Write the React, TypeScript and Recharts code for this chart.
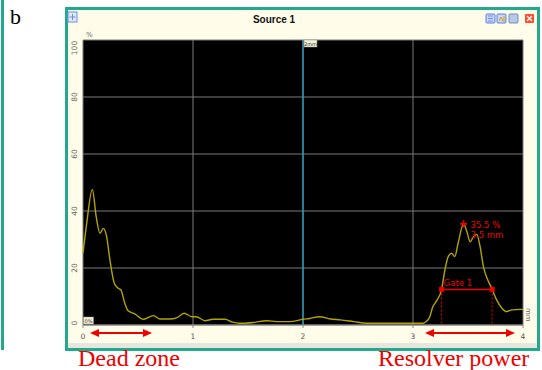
import React from 'react';
import {
  LineChart,
  Line,
  XAxis,
  YAxis,
  CartesianGrid,
  ReferenceLine,
  ReferenceDot
} from 'recharts';

// amplitude profile (mm vs %)
const positionMm = [
  0, 0.03, 0.085, 0.12, 0.155, 0.185, 0.215, 0.245, 0.285, 0.32, 0.345, 0.38, 0.41,
  0.47, 0.55, 0.64, 0.7, 0.79, 0.85, 0.92, 0.99, 1.03, 1.11, 1.18, 1.29, 1.36, 1.42,
  1.55, 1.67, 1.76, 1.88, 2.0, 2.06, 2.15, 2.25, 2.34, 2.46, 2.58, 2.7, 2.94, 3.09,
  3.12, 3.15, 3.18, 3.21, 3.26, 3.29, 3.32, 3.35, 3.38, 3.41, 3.46, 3.49, 3.52, 3.55,
  3.58, 3.61, 3.64, 3.68, 3.72, 3.76, 3.81, 3.85, 3.9, 3.97, 4.0
];
const amplitudePct = [
  25.2, 34.5, 47.6, 38, 32.2, 33.9, 31, 22.8, 14.6, 12.9, 12.3, 7.6, 5,
  3.9, 2, 3.3, 2.1, 2.1, 2.5, 4.1, 2.9, 2.9, 1.5, 2, 2, 1, 0.6,
  0.9, 1.5, 1.2, 1.2, 2, 2.3, 2.9, 2.1, 1.8, 1.2, 0.6, 0.6, 0.6, 0.6,
  1.2, 2.6, 6.4, 8.2, 12.5, 19.3, 24, 25.2, 24, 28.7, 35.5, 32.7, 29.2, 31,
  31.8, 27.5, 20.5, 15.8, 12.5, 8.8, 5.8, 4.7, 5.3, 5.5, 5.5
];

const xTicks = [0, 1, 2, 3, 4];
const yTicks = [0, 20, 40, 60, 80, 100];

const cursorMm = 2;
const gateStart = 3.26;
const gateEnd = 3.72;
const gateLevel = 12.5;
const peakMm = 3.46;
const peakPct = 35.5;
const peakLabel = ['35.5 %', '3.5 mm'];

const data = positionMm.map((x, i) => ({ x, y: amplitudePct[i] }));

const TEAL = '#22a88c';
const CREAM = '#fffde9';
const RED = '#ee0000';
const SMALL_FONT = '"DejaVu Sans", Arial, sans-serif';

const YTick = (props: any) => {
  const { y, payload } = props;
  let dy = 0;
  if (payload.value === 100) dy = 8;
  if (payload.value === 0) dy = -2;
  return (
    <text
      transform={`translate(77,${y + dy}) rotate(-90)`}
      textAnchor="middle"
      fontSize={7.5}
      fontFamily={SMALL_FONT}
      fill="#666"
    >
      {payload.value}
    </text>
  );
};

const XTick = (props: any) => {
  const { x, y, payload } = props;
  return (
    <text x={x} y={y + 9} textAnchor="middle" fontSize={7.5} fontFamily={SMALL_FONT} fill="#555">
      {payload.value}
    </text>
  );
};

const CursorLabel = (props: any) => {
  const { viewBox } = props;
  return (
    <g>
      <rect x={viewBox.x + 1} y={viewBox.y} width={13} height={7} fill="#f4f1d4" stroke="#999" strokeWidth={0.5} />
      <text x={viewBox.x + 7.5} y={viewBox.y + 5.5} textAnchor="middle" fontSize={5} fontFamily={SMALL_FONT} fill="#333">
        2mm
      </text>
    </g>
  );
};

const GateStartDot = (props: any) => {
  const { cx, cy } = props;
  return (
    <g>
      <rect x={cx - 2.5} y={cy - 2.5} width={5} height={5} fill={RED} />
      <text x={cx + 2} y={cy - 3} fontSize={8.5} fontFamily={SMALL_FONT} fill={RED}>
        Gate 1
      </text>
    </g>
  );
};

const GateEndDot = (props: any) => {
  const { cx, cy } = props;
  return <rect x={cx - 2.5} y={cy - 2.5} width={5} height={5} fill={RED} />;
};

const PeakDot = (props: any) => {
  const { cx, cy } = props;
  return (
    <g>
      <path d={`M${cx - 3.5},${cy} L${cx + 3.5},${cy} M${cx},${cy - 3.5} L${cx},${cy + 3.5}`} stroke={RED} strokeWidth={1.6} />
      <circle cx={cx} cy={cy} r={1.3} fill={RED} />
      <text x={cx + 7} y={cy + 4} fontSize={8.5} fontFamily={SMALL_FONT} fill={RED}>
        {peakLabel[0]}
      </text>
      <text x={cx + 7} y={cy + 14} fontSize={8.5} fontFamily={SMALL_FONT} fill={RED}>
        {peakLabel[1]}
      </text>
    </g>
  );
};

const Arrow = ({ x1, x2, y }: { x1: number; x2: number; y: number }) => (
  <g fill={RED} stroke={RED}>
    <line x1={x1 + 6} y1={y} x2={x2 - 6} y2={y} strokeWidth={2.2} />
    <path d={`M${x1},${y} L${x1 + 9},${y - 4} L${x1 + 9},${y + 4} Z`} stroke="none" />
    <path d={`M${x2},${y} L${x2 - 9},${y - 4} L${x2 - 9},${y + 4} Z`} stroke="none" />
  </g>
);

const TitleIcon = ({ x, color, fill }: { x: number; color: string; fill: string }) => (
  <rect x={x} y={14} width={9} height={9} fill={fill} stroke={color} strokeWidth={1} rx={1} />
);

export default function App() {
  return (
    <div style={{ position: 'absolute', left: 0, top: 0, width: 542, height: 370, background: '#fff', overflow: 'hidden' }}>
      {/* window frame */}
      <div
        style={{
          position: 'absolute',
          left: 65,
          top: 7,
          width: 475,
          height: 344,
          boxSizing: 'border-box',
          border: `3px solid ${TEAL}`,
          background: CREAM
        }}
      />
      <div style={{ position: 'absolute', left: 68, top: 343, width: 469, height: 5, background: '#e6e6de' }} />

      <div style={{ position: 'absolute', left: 0, top: 0 }}>
        <LineChart width={542} height={370} data={data} margin={{ top: 40, right: 19, bottom: 0, left: 63 }}>
          <CartesianGrid fill="#000" stroke="#7a7a7a" strokeWidth={1} />
          <XAxis
            dataKey="x"
            type="number"
            domain={[0, 4]}
            ticks={xTicks}
            height={45}
            tick={<XTick />}
            tickSize={3}
            axisLine={{ stroke: '#888' }}
            tickLine={{ stroke: '#888' }}
          />
          <YAxis
            type="number"
            domain={[0, 100]}
            ticks={yTicks}
            width={20}
            tick={<YTick />}
            axisLine={false}
            tickLine={false}
          />
          <ReferenceLine x={cursorMm} stroke="#18a8d0" strokeWidth={1.2} label={<CursorLabel />} />
          <ReferenceLine
            segment={[{ x: gateStart, y: gateLevel }, { x: gateStart, y: 0 }]}
            stroke="#c00000"
            strokeWidth={1.3}
            strokeDasharray="2 2"
          />
          <ReferenceLine
            segment={[{ x: gateEnd, y: gateLevel }, { x: gateEnd, y: 0 }]}
            stroke="#c00000"
            strokeWidth={1.3}
            strokeDasharray="2 2"
          />
          <Line
            type="monotone"
            dataKey="y"
            stroke="#b3a400"
            strokeWidth={1.4}
            dot={false}
            isAnimationActive={false}
          />
          <ReferenceLine
            segment={[{ x: gateStart, y: gateLevel }, { x: gateEnd, y: gateLevel }]}
            stroke={RED}
            strokeWidth={1.5}
          />
          <ReferenceDot x={gateStart} y={gateLevel} shape={<GateStartDot />} />
          <ReferenceDot x={gateEnd} y={gateLevel} shape={<GateEndDot />} />
          <ReferenceDot x={peakMm} y={peakPct} shape={<PeakDot />} />
        </LineChart>
      </div>

      {/* overlay: title bar, unit labels, annotations */}
      <svg width={542} height={370} style={{ position: 'absolute', left: 0, top: 0, pointerEvents: 'none' }}>
        <rect x={1} y={0} width={3} height={350} fill={TEAL} />
        <text x={10} y={24} fontSize={22} fontFamily='"Liberation Serif", "Times New Roman", serif' fill="#000">
          b
        </text>

        <rect x={68} y={12} width={9} height={10} fill="#dfe8ff" stroke="#6c8fe0" strokeWidth={1} />
        <path d="M72.5,14 L72.5,20 M69.5,17 L75.5,17" stroke="#6c8fe0" strokeWidth={1} />
        <text x={274} y={23} textAnchor="middle" fontSize={10} fontWeight="bold" fontFamily='"Liberation Sans", Arial, sans-serif' fill="#111">
          Source 1
        </text>
        <TitleIcon x={486} color="#5d7fe0" fill="#c9d7ff" />
        <TitleIcon x={497} color="#5d7fe0" fill="#c9d7ff" />
        <path d="M499,21 L501,17 L503,21 M504,16 L504,22" stroke="#d4a000" strokeWidth={1} fill="none" />
        <TitleIcon x={509} color="#6d8fc0" fill="#b8c8e8" />
        <rect x={525} y={14} width={9} height={9} fill="#ff4a2a" rx={1} />
        <path d="M527,16 L532,21 M532,16 L527,21" stroke="#fff" strokeWidth={1.4} />
        <path d="M488,16 L493,16 M488,18.5 L493,18.5 M488,21 L493,21" stroke="#5d7fe0" strokeWidth={0.8} />

        <text x={86} y={37} fontSize={7} fontFamily={SMALL_FONT} fill="#666">
          %
        </text>
        <text transform="translate(526,308) rotate(90)" fontSize={7} fontFamily={SMALL_FONT} fill="#666">
          mm
        </text>
        <rect x={83.5} y={317} width={10} height={7} fill="#f4f1d4" stroke="#999" strokeWidth={0.5} />
        <text x={88.5} y={322.5} textAnchor="middle" fontSize={5} fontFamily={SMALL_FONT} fill="#333">
          0%
        </text>

        <Arrow x1={90} x2={152} y={333} />
        <Arrow x1={425} x2={515} y={333} />
        <text x={78} y={366} fontSize={24} fontFamily='"Liberation Serif", "Times New Roman", serif' fill={RED}>
          Dead zone
        </text>
        <text x={378} y={366} fontSize={24} fontFamily='"Liberation Serif", "Times New Roman", serif' fill={RED}>
          Resolver power
        </text>
      </svg>
    </div>
  );
}
